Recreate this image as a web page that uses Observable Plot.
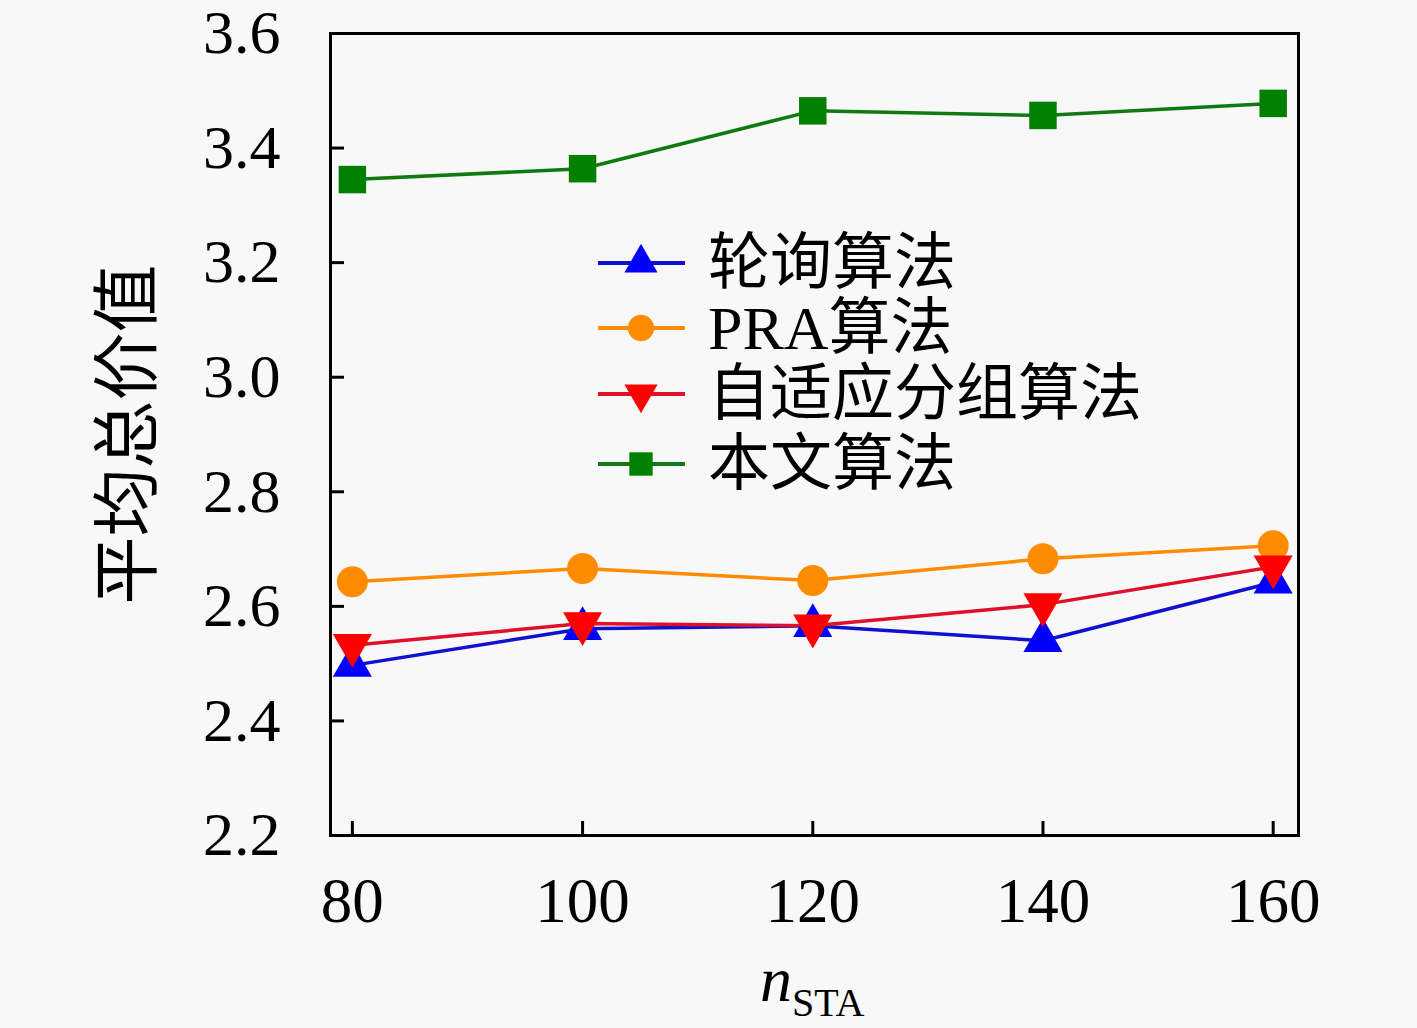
<!DOCTYPE html>
<html><head><meta charset="utf-8">
<script src="https://cdn.jsdelivr.net/npm/d3@7"></script>
<script src="https://cdn.jsdelivr.net/npm/@observablehq/plot@0.6"></script>
<style>
html,body{margin:0;padding:0;background:#f8f8f8;}
#wrap{position:relative;width:1417px;height:1028px;}
.lg{position:absolute;left:598px;height:62px;line-height:62px;font-family:"Liberation Serif","Noto Sans CJK SC",serif;font-size:62px;color:#000;display:flex;align-items:center;white-space:nowrap;}
</style></head>
<body><div id="wrap"></div>
<script>
const nSTA = [80, 100, 120, 140, 160];
const polling = [2.497, 2.561, 2.566, 2.540, 2.642];
const pra = [2.643, 2.666, 2.645, 2.683, 2.706];
const adaptive = [2.532, 2.570, 2.566, 2.603, 2.669];
const proposed = [3.345, 3.364, 3.465, 3.457, 3.478];
const seriesNames = ["轮询算法", "PRA算法", "自适应分组算法", "本文算法"];
const yTicks = [2.2, 2.4, 2.6, 2.8, 3.0, 3.2, 3.4, 3.6];
const xTicks = [80, 100, 120, 140, 160];

const styles = [
  {values: polling, line: "#1010d0", fill: "#0000ff", symbol: "triangle", r: 14.5, rotate: 0},
  {values: pra, line: "#ff8c00", fill: "#ff8c00", symbol: "circle", r: 15.5, rotate: 0},
  {values: adaptive, line: "#e0102a", fill: "#ff0000", symbol: "triangle", r: 14.5, rotate: 180},
  {values: proposed, line: "#107a10", fill: "#007f00", symbol: "square", r: 15.5, rotate: 0}
];
const rows = [];
styles.forEach((s, i) => nSTA.forEach((x, j) => rows.push({series: seriesNames[i], x, y: s.values[j], i})));

const font = '"Liberation Serif","Noto Sans CJK SC",serif';
const marks = [];
styles.forEach((s, i) => {
  const d = rows.filter(r => r.i === i);
  marks.push(Plot.line(d, {x: "x", y: "y", stroke: s.line, strokeWidth: 3.5}));
});
styles.forEach((s, i) => {
  const d = rows.filter(r => r.i === i);
  marks.push(Plot.dot(d, {x: "x", y: "y", fill: s.fill, symbol: s.symbol, r: s.r, rotate: s.rotate, stroke: "none"}));
});
marks.push(
  Plot.axisY({ticks: yTicks, tickSize: -14, text: null, strokeWidth: 3, label: null}),
  Plot.axisY({ticks: yTicks, tickSize: 0, tickPadding: 50, tickFormat: d3.format(".1f"), fontSize: 62, fontFamily: font, label: null}),
  Plot.axisY({ticks: [], tickSize: 0, fontSize: 68, fontFamily: font, label: "平均总价值", labelAnchor: "center", labelArrow: "none", labelOffset: 228}),
  Plot.axisX({ticks: xTicks, tickSize: -14, text: null, strokeWidth: 3, label: null}),
  Plot.axisX({ticks: xTicks, tickSize: 0, tickPadding: 42, fontSize: 63, fontFamily: font, label: null}),
  Plot.frame({stroke: "#000", strokeWidth: 3})
);

const chart = Plot.plot({
  width: 1417, height: 1028,
  marginLeft: 330, marginRight: 119, marginTop: 33, marginBottom: 193,
  style: {background: "#f8f8f8", fontFamily: font, color: "#000", overflow: "visible"},
  x: {domain: [78.1, 162.2]},
  y: {domain: [2.2, 3.6]},
  marks
});
const wrap = document.getElementById("wrap");
wrap.appendChild(chart);

// legend
const legendTops = [263, 328, 394, 464];
styles.forEach((s, i) => {
  const div = document.createElement("div");
  div.className = "lg";
  div.style.top = (legendTops[i] - 31) + "px";
  const sym = s.symbol === "circle" ? d3.symbolCircle : s.symbol === "square" ? d3.symbolSquare : d3.symbolTriangle;
  const path = d3.symbol(sym, Math.PI * s.r * s.r)();
  div.innerHTML = `<svg width="110" height="62" style="overflow:visible;flex:none"><line x1="0" x2="87" y1="31" y2="31" stroke="${s.line}" stroke-width="4"/><path transform="translate(43,31) rotate(${s.rotate}) scale(0.85)" d="${path}" fill="${s.fill}"/></svg><span>${seriesNames[i]}</span>`;
  wrap.appendChild(div);
});

// x label
const xl = document.createElement("div");
xl.style.cssText = `position:absolute;left:760px;top:943px;font-family:${font};font-size:64px;`;
xl.innerHTML = '<i>n</i><span style="font-size:40px;position:relative;top:15px;">STA</span>';
wrap.appendChild(xl);
</script></body></html>
